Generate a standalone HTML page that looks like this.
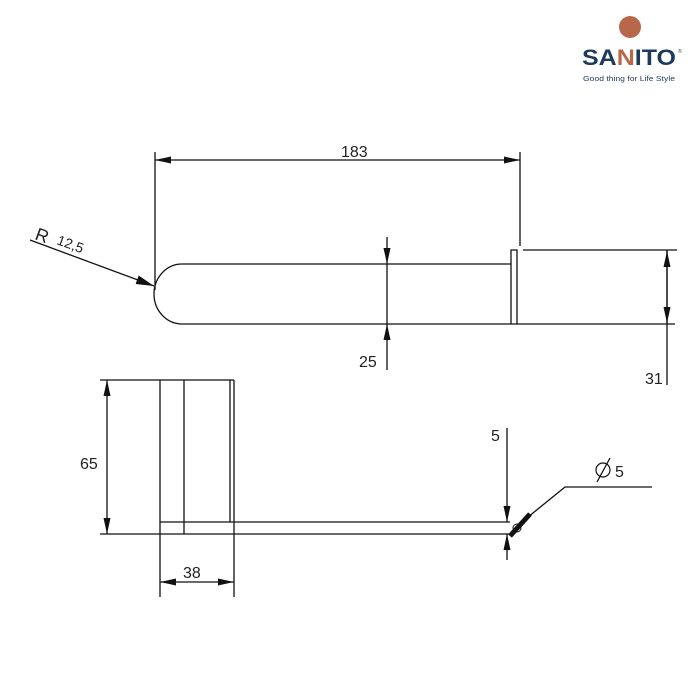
<!DOCTYPE html>
<html><head><style>body{margin:0;background:#fff}svg{display:block}text{font-family:"Liberation Sans",sans-serif;fill:#222}</style></head><body>
<svg width="700" height="700" viewBox="0 0 700 700" xmlns="http://www.w3.org/2000/svg">
<defs><marker id="a" viewBox="0 0 10 10" refX="10" refY="5" markerWidth="16" markerHeight="7" markerUnits="userSpaceOnUse" orient="auto-start-reverse" preserveAspectRatio="none"><path d="M0,0L10,5L0,10z" fill="#111"/></marker>
<marker id="b" viewBox="0 0 10 10" refX="10" refY="5" markerWidth="18" markerHeight="9" markerUnits="userSpaceOnUse" orient="auto" preserveAspectRatio="none"><path d="M0,0L10,5L0,10z" fill="#111"/></marker></defs>
<circle cx="630" cy="27" r="11" fill="#b9674a"/>
<text x="582" y="65" font-size="22" font-weight="bold" textLength="94" lengthAdjust="spacingAndGlyphs" style="fill:#1f3b5c">SA<tspan style="fill:#b9674a">N</tspan>ITO</text>
<text x="678" y="53" font-size="5" style="fill:#1f3b5c">®</text>
<text x="583" y="81" font-size="7.5" textLength="92" lengthAdjust="spacingAndGlyphs" style="fill:#1f3b5c">Good thing for Life Style</text>
<g stroke="#111" stroke-width="1.3" fill="none">
<line x1="155" y1="152" x2="155" y2="290"/><line x1="520" y1="152" x2="520" y2="246"/>
<line x1="155" y1="160" x2="520" y2="160" marker-start="url(#a)" marker-end="url(#a)"/>
<path d="M511,264 H182 A28,30 0 0 0 182,324 H675"/>
<path d="M511,264 V250 H517 V324 M511,264 V324"/>
<line x1="523" y1="250" x2="677" y2="250"/>
<line x1="667" y1="250" x2="667" y2="385" />
<line x1="667" y1="290" x2="667" y2="251" marker-end="url(#a)"/><line x1="667" y1="290" x2="667" y2="323" marker-end="url(#a)"/>
<line x1="387" y1="237" x2="387" y2="264" marker-end="url(#a)"/><line x1="387" y1="370" x2="387" y2="324" marker-end="url(#a)"/>
<line x1="387" y1="264" x2="387" y2="324"/>
<line x1="30" y1="240" x2="154" y2="286" marker-end="url(#b)"/>
<line x1="100" y1="380" x2="234" y2="380"/><line x1="100" y1="534" x2="512" y2="534"/>
<line x1="160" y1="522" x2="510" y2="522"/>
<line x1="160" y1="380" x2="160" y2="597"/><line x1="184" y1="380" x2="184" y2="534"/>
<line x1="230" y1="380" x2="230" y2="522"/><line x1="234" y1="380" x2="234" y2="597"/>
<line x1="107" y1="380" x2="107" y2="534" marker-start="url(#a)" marker-end="url(#a)"/>
<line x1="160" y1="582" x2="234" y2="582" marker-start="url(#a)" marker-end="url(#a)"/>
<line x1="507" y1="428" x2="507" y2="522" marker-end="url(#a)"/><line x1="507" y1="560" x2="507" y2="534" marker-end="url(#a)"/>
<path d="M517,526 L565,487 H652"/>
<line x1="530" y1="514" x2="510" y2="536" stroke-width="5"/>
<circle cx="517" cy="528" r="4" stroke-width="1"/>
<circle cx="603" cy="470" r="7" stroke-width="1.2"/><line x1="597" y1="482" x2="610" y2="458"/>
</g>
<g font-size="16">
<text x="341" y="157">183</text>
<text x="359" y="367">25</text>
<text x="645" y="384">31</text>
<text x="80" y="469">65</text>
<text x="183" y="578">38</text>
<text x="491" y="441">5</text>
<text x="615" y="477">5</text>
<text x="34" y="239" transform="rotate(20 34 239)" font-size="18">R</text>
<text x="56" y="244" transform="rotate(20 56 244)" font-size="14">12,5</text>
</g>
</svg></body></html>
